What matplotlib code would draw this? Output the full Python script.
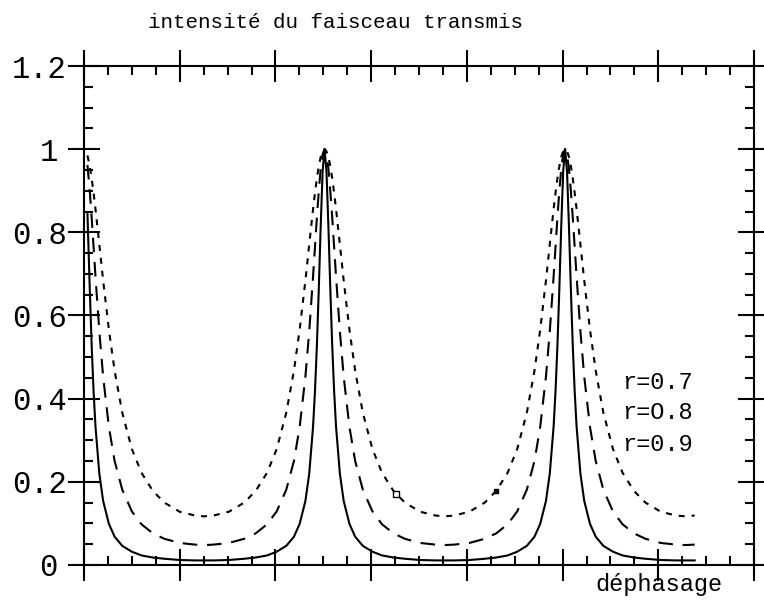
import matplotlib
matplotlib.use("Agg")
import matplotlib.pyplot as plt
from matplotlib.ticker import MultipleLocator
from matplotlib.transforms import blended_transform_factory

# phase shift (rad)
phase = [0.09, 0.15, 0.2, 0.25, 0.3, 0.4, 0.5, 0.65, 0.8, 1.0, 1.25, 1.5, 1.8, 2.1, 2.5, 2.9, 3.142,
         3.383, 3.783, 4.183, 4.483, 4.783, 5.033, 5.283, 5.483, 5.633, 5.783, 5.883, 5.983, 6.033, 6.083, 6.133, 6.183, 6.233, 6.283,
         6.333, 6.383, 6.433, 6.483, 6.533, 6.583, 6.683, 6.783, 6.933, 7.083, 7.283, 7.533, 7.783, 8.083, 8.383, 8.783, 9.183, 9.425,
         9.666, 10.066, 10.466, 10.766, 11.066, 11.316, 11.566, 11.766, 11.916, 12.066, 12.166, 12.266, 12.316, 12.366, 12.416, 12.466, 12.516, 12.566,
         12.616, 12.666, 12.716, 12.766, 12.816, 12.866, 12.966, 13.066, 13.216, 13.366, 13.566, 13.816, 14.066, 14.366, 14.666, 15.066, 15.466, 15.708,
         15.950]

# transmitted intensity for r = 0.7
t_r07 = [0.985, 0.959, 0.930, 0.895, 0.856, 0.771, 0.684, 0.566, 0.467, 0.366, 0.279, 0.222, 0.178, 0.150, 0.128, 0.119, 0.117,
         0.119, 0.128, 0.150, 0.178, 0.222, 0.279, 0.366, 0.467, 0.566, 0.684, 0.771, 0.856, 0.895, 0.930, 0.959, 0.982, 0.995, 1.000,
         0.995, 0.982, 0.959, 0.930, 0.895, 0.856, 0.771, 0.684, 0.566, 0.467, 0.366, 0.279, 0.222, 0.178, 0.150, 0.128, 0.119, 0.117,
         0.119, 0.128, 0.150, 0.178, 0.222, 0.279, 0.366, 0.467, 0.566, 0.684, 0.771, 0.856, 0.895, 0.930, 0.959, 0.982, 0.995, 1.000,
         0.995, 0.982, 0.959, 0.930, 0.895, 0.856, 0.771, 0.684, 0.566, 0.467, 0.366, 0.279, 0.222, 0.178, 0.150, 0.128, 0.119, 0.117,
         0.119]

# transmitted intensity for r = 0.8
t_r08 = [0.962, 0.900, 0.836, 0.765, 0.694, 0.562, 0.453, 0.332, 0.250, 0.181, 0.129, 0.098, 0.076, 0.063, 0.053, 0.049, 0.048,
         0.049, 0.053, 0.063, 0.076, 0.098, 0.129, 0.181, 0.250, 0.332, 0.453, 0.562, 0.694, 0.765, 0.836, 0.900, 0.953, 0.988, 1.000,
         0.988, 0.953, 0.900, 0.836, 0.765, 0.694, 0.562, 0.453, 0.332, 0.250, 0.181, 0.129, 0.098, 0.076, 0.063, 0.053, 0.049, 0.048,
         0.049, 0.053, 0.063, 0.076, 0.098, 0.129, 0.181, 0.250, 0.332, 0.453, 0.562, 0.694, 0.765, 0.836, 0.900, 0.953, 0.988, 1.000,
         0.988, 0.953, 0.900, 0.836, 0.765, 0.694, 0.562, 0.453, 0.332, 0.250, 0.181, 0.129, 0.098, 0.076, 0.063, 0.053, 0.049, 0.048,
         0.049]

# transmitted intensity for r = 0.9
t_r09 = [0.846, 0.665, 0.528, 0.418, 0.333, 0.220, 0.154, 0.099, 0.068, 0.046, 0.032, 0.023, 0.018, 0.015, 0.012, 0.011, 0.011,
         0.011, 0.012, 0.015, 0.018, 0.023, 0.032, 0.046, 0.068, 0.099, 0.154, 0.220, 0.333, 0.418, 0.528, 0.665, 0.817, 0.947, 1.000,
         0.947, 0.817, 0.665, 0.528, 0.418, 0.333, 0.220, 0.154, 0.099, 0.068, 0.046, 0.032, 0.023, 0.018, 0.015, 0.012, 0.011, 0.011,
         0.011, 0.012, 0.015, 0.018, 0.023, 0.032, 0.046, 0.068, 0.099, 0.154, 0.220, 0.333, 0.418, 0.528, 0.665, 0.817, 0.947, 1.000,
         0.947, 0.817, 0.665, 0.528, 0.418, 0.333, 0.220, 0.154, 0.099, 0.068, 0.046, 0.032, 0.023, 0.018, 0.015, 0.012, 0.011, 0.011,
         0.011]

curve_labels = ["r=0.7", "r=O.8", "r=0.9"]
ytick_values = [0, 0.2, 0.4, 0.6, 0.8, 1, 1.2]
ytick_labels = ["0", "0.2", "0.4", "0.6", "0.8", "1", "1.2"]

# small point markers sitting on the r=0.7 curve
open_mark_x = [8.15]
open_mark_y = [0.171]
filled_mark_x = [10.75]
filled_mark_y = [0.177]

MONO = "Liberation Mono"
plt.rcParams["lines.scale_dashes"] = False

W, H = 764, 602
fig = plt.figure(figsize=(W / 100, H / 100), dpi=100)
ax = fig.add_axes([84 / W, 1 - 565 / H, (754 - 84) / W, (565 - 66) / H])

lw = 1.5
ax.plot(phase, t_r07, color="black", lw=lw, dashes=(4.3, 5.0), dash_capstyle="butt")
ax.plot(phase, t_r08, color="black", lw=lw, dashes=(10.5, 7.0), dash_capstyle="butt")
ax.plot(phase, t_r09, color="black", lw=lw, solid_joinstyle="round")

ax.plot(open_mark_x, open_mark_y, ls="none", marker="s", ms=4, mfc="white", mec="black", mew=1.0)
ax.plot(filled_mark_x, filled_mark_y, ls="none", marker="s", ms=3.5, mfc="black", mec="black")

ax.set_xlim(0, 17.5)
ax.set_ylim(0, 1.2)
ax.xaxis.set_major_locator(MultipleLocator(2.5))
ax.xaxis.set_minor_locator(MultipleLocator(0.625))
ax.yaxis.set_major_locator(MultipleLocator(0.2))
ax.yaxis.set_minor_locator(MultipleLocator(0.05))

for s in ax.spines.values():
    s.set_linewidth(1.5)
ax.tick_params(which="major", direction="inout", length=23, width=1.5,
               top=True, right=True, bottom=True, left=True,
               labelbottom=False, labelleft=False)
ax.tick_params(which="minor", direction="in", length=6.5, width=1.5,
               top=True, right=True, bottom=True, left=True)

# y tick labels
ytr = blended_transform_factory(fig.transFigure, ax.transData)
for v, lab in zip(ytick_values, ytick_labels):
    if len(lab) == 1:
        fig.text(48.5 / W, v, lab, transform=ytr, ha="center", va="center_baseline",
                 family=MONO, fontsize=22)
    else:
        fig.text(67 / W, v, lab, transform=ytr, ha="right", va="center_baseline",
                 family=MONO, fontsize=22)

# curve labels
for lab, ypix in zip(curve_labels, [380, 410, 442]):
    fig.text(622 / W, 1 - ypix / H, lab, ha="left", va="center_baseline",
             family=MONO, fontsize=17)

fig.text(148 / W, 1 - 20 / H, "intensité du faisceau transmis", ha="left",
         va="center_baseline", family=MONO, fontsize=15)
fig.text(595 / W, 1 - 591 / H, "déphasage", ha="left", va="baseline",
         family=MONO, fontsize=17)

fig.savefig("out.png", dpi=100)
